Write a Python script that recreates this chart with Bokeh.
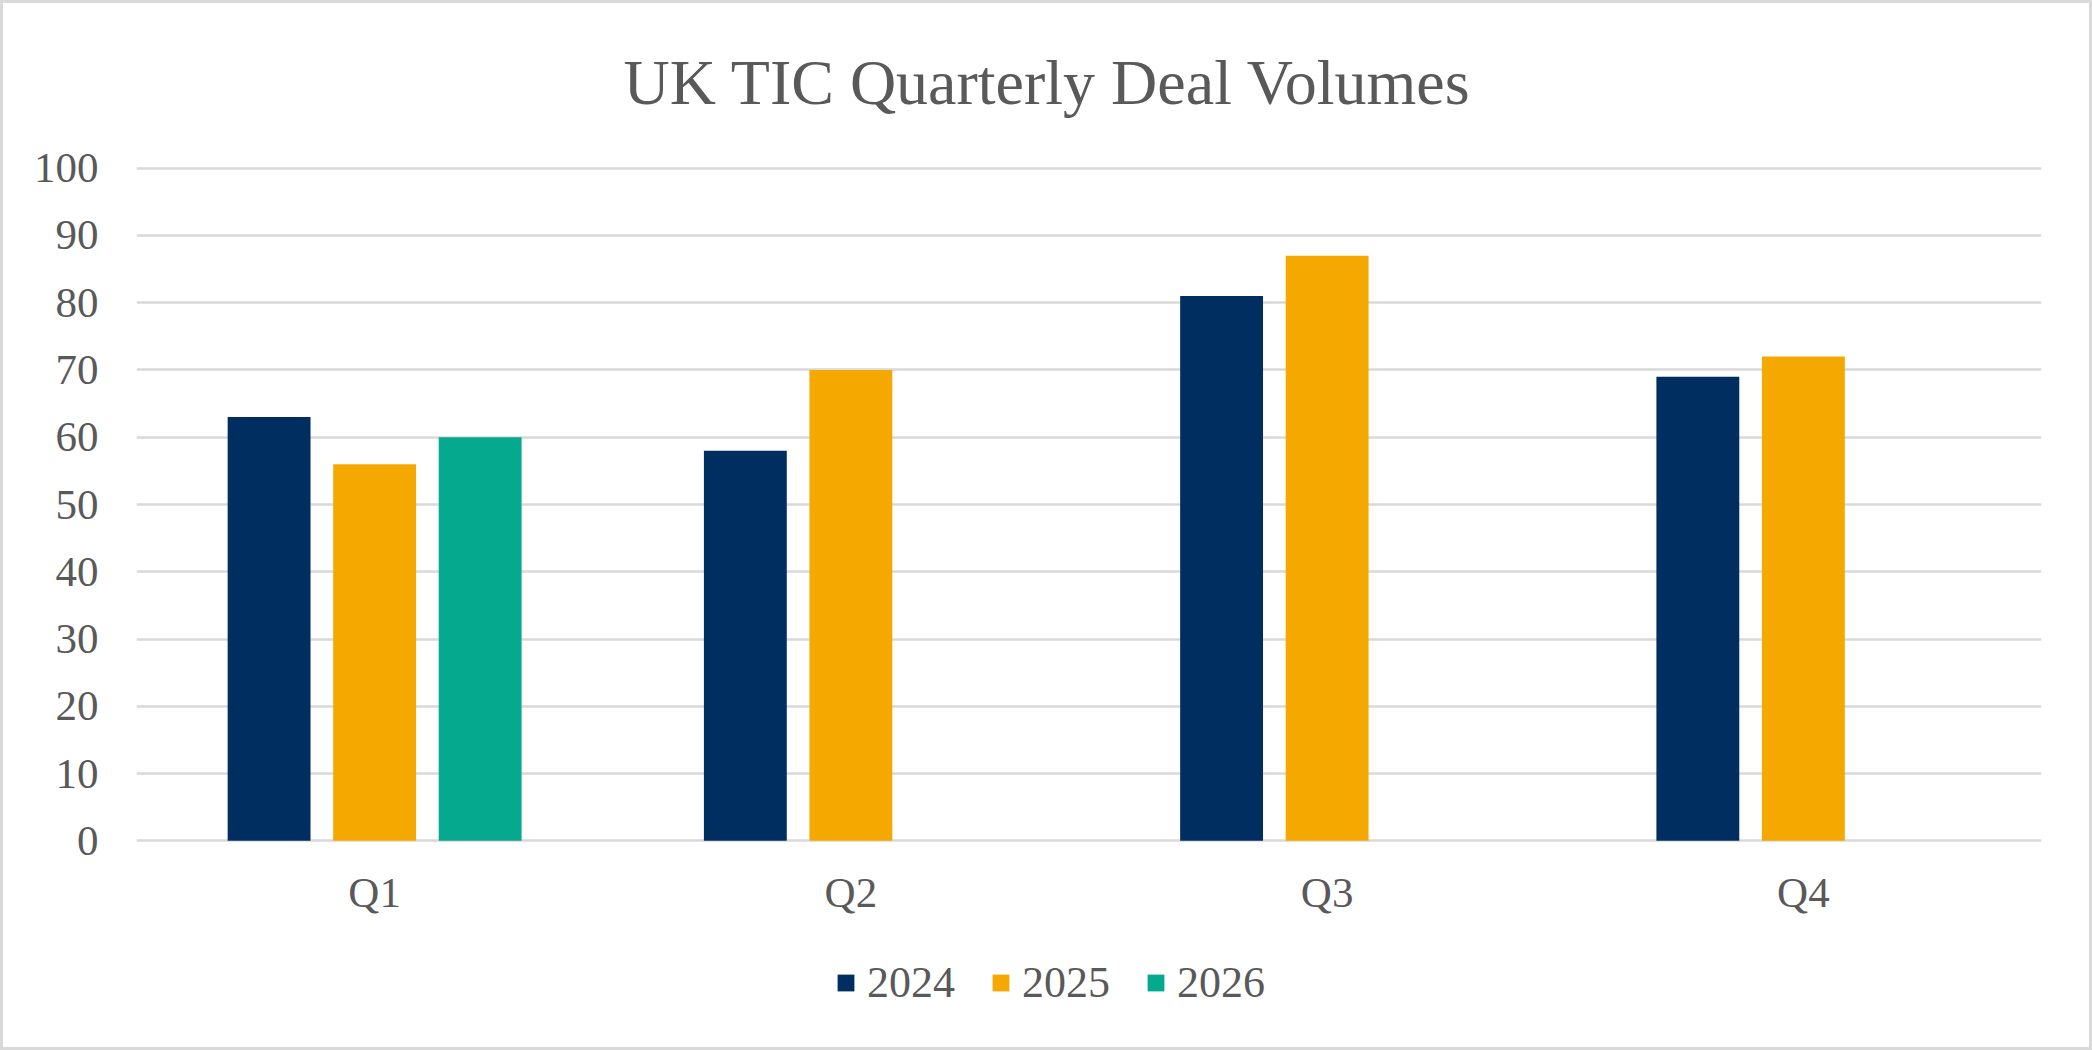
import math
from bokeh.plotting import figure
from bokeh.layouts import column
from bokeh.models import FactorRange, Range1d, Legend, LegendItem, ColumnDataSource, FixedTicker
from bokeh.transform import dodge
from bokeh.embed import file_html
from bokeh.resources import INLINE

quarters = ["Q1", "Q2", "Q3", "Q4"]
series_names = ["2024", "2025", "2026"]
v2024 = [63, 58, 81, 69]
v2025 = [56, 70, 87, 72]
v2026 = [60, float("nan"), float("nan"), float("nan")]
y_ticks = [0, 10, 20, 30, 40, 50, 60, 70, 80, 90, 100]
colors = ["#002E60", "#F5A800", "#05A98E"]

FONT = "Liberation Serif"
TXT = "#595959"

source = ColumnDataSource(data=dict(quarter=quarters, s2024=v2024, s2025=v2025, s2026=v2026))
x_range = FactorRange(*quarters, range_padding=0)

p = figure(width=2092, height=930,
           x_range=x_range,
           y_range=Range1d(-1, 101),
           output_backend="svg", toolbar_location=None,
           min_border_left=136, min_border_right=51,
           min_border_top=161, min_border_bottom=83)

p.background_fill_color = "white"
p.border_fill_alpha = 0
p.outline_line_color = None

offsets = [-0.2216, 0.0, 0.2216]
keys = ["s2024", "s2025", "s2026"]
for k, off, c in zip(keys, offsets, colors):
    p.vbar(x=dodge("quarter", off, range=x_range), top=k, bottom=0, width=0.174,
           source=source, fill_color=c, line_color=None)

p.title.text = "UK TIC Quarterly Deal Volumes"
p.title.align = "left"
p.title.offset = 487
p.title.standoff = 88
p.title.text_font = FONT
p.title.text_font_size = "64px"
p.title.text_font_style = "normal"
p.title.text_color = TXT

p.ygrid.grid_line_color = "#D9D9D9"
p.ygrid.grid_line_width = 2.7
p.xgrid.grid_line_color = None

p.yaxis.ticker = FixedTicker(ticks=y_ticks)
for ax in (p.xaxis, p.yaxis):
    ax.axis_line_color = None
    ax.major_tick_line_color = None
    ax.minor_tick_line_color = None
    ax.major_tick_out = 0
    ax.major_tick_in = 0
    ax.major_label_text_font = FONT
    ax.major_label_text_font_size = "43px"
    ax.major_label_text_color = TXT
p.yaxis.major_label_standoff = 38
p.xaxis.major_label_standoff = 21

# Legend strip below the chart (its own frame covers the whole strip)
lg = figure(width=2092, height=120, x_range=x_range, y_range=Range1d(1000, 1001),
            x_axis_type=None, y_axis_type=None,
            output_backend="svg", toolbar_location=None,
            min_border=0, min_border_left=0, min_border_right=0,
            min_border_top=0, min_border_bottom=0)
lg.background_fill_alpha = 0
lg.border_fill_alpha = 0
lg.outline_line_color = None
lg.grid.visible = False
leg_renderers = []
for k, off, c in zip(keys, offsets, colors):
    r = lg.vbar(x=dodge("quarter", off, range=x_range), top=k, bottom=0, width=0.174,
                source=source, fill_color=c, line_color=None)
    leg_renderers.append(r)

legend = Legend(items=[LegendItem(label=n, renderers=[r]) for n, r in zip(series_names, leg_renderers)],
                orientation="horizontal", location=(699, 42),
                glyph_width=21, glyph_height=21, label_standoff=11, spacing=35,
                padding=0, margin=0, border_line_color=None, background_fill_alpha=0,
                label_text_font=FONT, label_text_font_size="44px", label_text_color=TXT)
lg.add_layout(legend)

layout = column(p, lg, spacing=0)
layout.styles = {"background-color": "white", "box-shadow": "inset 0 0 0 3px #d9d9d9"}

open("out.html", "w").write(file_html(layout, INLINE))
